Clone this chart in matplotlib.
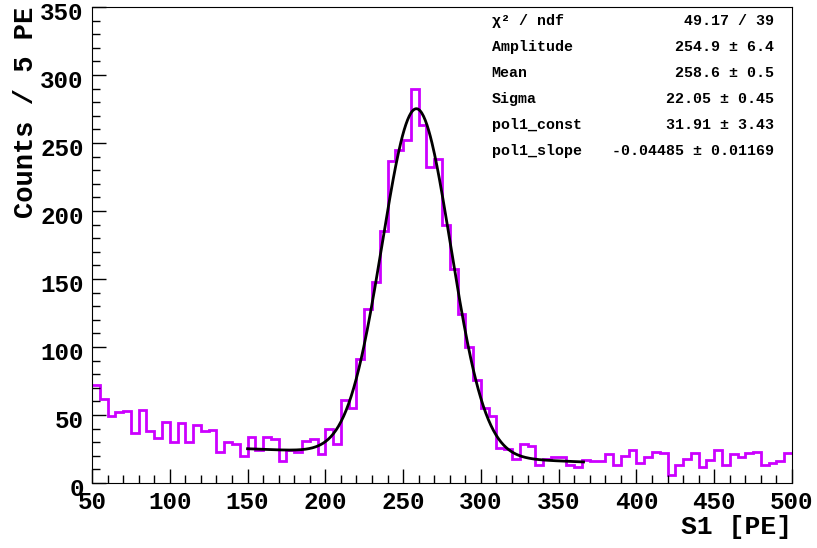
import numpy as np
import matplotlib.pyplot as plt
import matplotlib.transforms as mtransforms
from matplotlib.ticker import MultipleLocator

# S1 spectrum, 5 PE bins from 50 to 500
bin_lo = 50
bin_w = 5
counts = [72, 62, 49, 52, 53, 37, 54, 38, 33, 45,
          30, 44, 30, 43, 38, 39, 23, 30, 29, 20,
          34, 24, 34, 32, 16, 24, 23, 31, 32, 21,
          40, 29, 61, 55, 91, 128, 148, 185, 237, 245,
          252, 290, 263, 232, 238, 190, 157, 124, 100, 76,
          55, 49, 26, 25, 18, 29, 27, 13, 18, 19,
          19, 13, 12, 17, 16, 16, 21, 13, 20, 24,
          15, 19, 23, 22, 6, 13, 18, 22, 12, 17,
          24, 13, 21, 19, 22, 23, 13, 15, 16, 22]

# fit result (gaus + pol1)
par_names = ["Amplitude", "Mean", "Sigma", "pol1_const", "pol1_slope"]
par_vals = [254.9, 258.6, 22.05, 31.91, -0.04485]
par_errs = ["6.4", "0.5", "0.45", "3.43", "0.01169"]
par_txt = ["254.9", "258.6", "22.05", "31.91", "-0.04485"]
chi2_txt = "49.17 / 39"
fit_range = (150, 366)

edges = bin_lo + bin_w * np.arange(len(counts) + 1)

fig = plt.figure(figsize=(8.17, 5.48), dpi=100)
ax = fig.add_axes([0.1126, 0.1186, 0.8568, 0.8686])

ax.stairs(counts, edges, baseline=None, color='#cc00ff', lw=2)

xf = np.linspace(fit_range[0], fit_range[1], 400)
A, mu, sig, c0, c1 = par_vals
yf = A * np.exp(-0.5 * ((xf - mu) / sig) ** 2) + c0 + c1 * xf
ax.plot(xf, yf, color='k', lw=2)

ax.set_xlim(50, 500)
ax.set_ylim(0, 350)

font = 'Liberation Mono'
ax.xaxis.set_major_locator(MultipleLocator(50))
ax.xaxis.set_minor_locator(MultipleLocator(10))
ax.yaxis.set_major_locator(MultipleLocator(50))
ax.yaxis.set_minor_locator(MultipleLocator(10))
ax.tick_params(which='both', direction='in', top=False, right=False, width=1)
ax.tick_params(which='major', length=10, labelsize=17.5, pad=6)
ax.tick_params(which='minor', length=5.5)
# ROOT puts the y labels a little below the tick
shift = mtransforms.ScaledTranslation(0, -3 / 72, fig.dpi_scale_trans)
for lab in ax.get_xticklabels() + ax.get_yticklabels():
    lab.set_family(font)
    lab.set_weight('bold')
for lab in ax.get_yticklabels():
    lab.set_transform(lab.get_transform() + shift)

ax.set_xlabel("S1 [PE]", family=font, weight='bold', fontsize=19)
ax.xaxis.set_label_coords(1.0, -0.068)
ax.xaxis.label.set_ha('right')
ax.set_ylabel("Counts / 5 PE", family=font, weight='bold', fontsize=19.5)
ax.yaxis.set_label_coords(-0.076, 1.0)
ax.yaxis.label.set_ha('right')

# stats box
rows = [("χ² / ndf", chi2_txt)]
for n, v, e in zip(par_names, par_txt, par_errs):
    rows.append((n, v + " ± " + e))
for i, (n, v) in enumerate(rows):
    y = 0.971 - i * 0.0545
    ax.text(0.571, y, n, transform=ax.transAxes, family=font, weight='bold',
            fontsize=10.8, va='center', ha='left')
    ax.text(0.974, y, v, transform=ax.transAxes, family=font, weight='bold',
            fontsize=10.8, va='center', ha='right')

fig.savefig("out.png")
